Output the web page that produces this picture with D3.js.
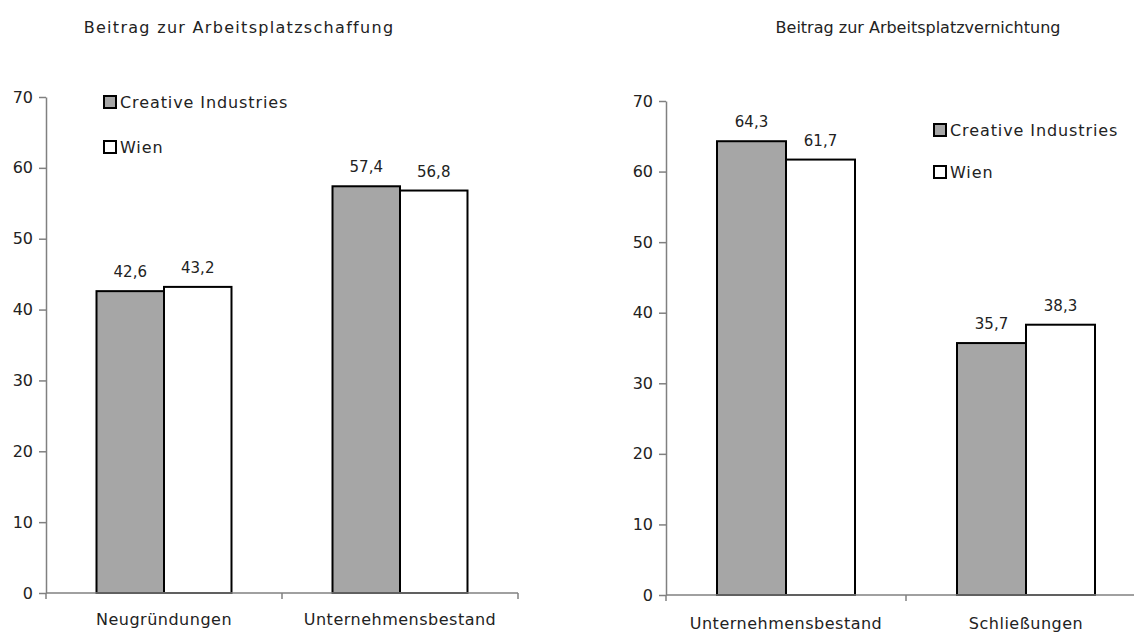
<!doctype html>
<meta charset="utf-8">
<style>
 body { margin: 0; background: #fff; }
 svg text { font-family: "DejaVu Sans", sans-serif; fill: #222; }
 .axis path, .axis line { stroke: #808080; stroke-width: 1.5px; }
 .axis text { font-size: 16px; }
 .bars rect { stroke: #000; stroke-width: 2px; }
</style>
<svg width="1134" height="635"></svg>
<script src="https://d3js.org/d3.v7.min.js"></script>
<script>
 // Data
 var series = ["Creative Industries", "Wien"];
 var colors = ["#a6a6a6", "#ffffff"];

 var leftTitle = "Beitrag zur Arbeitsplatzschaffung";
 var leftCategories = ["Neugründungen", "Unternehmensbestand"];
 var leftCreative = [42.6, 57.4];
 var leftWien = [43.2, 56.8];

 var rightTitle = "Beitrag zur Arbeitsplatzvernichtung";
 var rightCategories = ["Unternehmensbestand", "Schließungen"];
 var rightCreative = [64.3, 35.7];
 var rightWien = [61.7, 38.3];

 var yTicks = [0, 10, 20, 30, 40, 50, 60, 70];

 var svg = d3.select("svg");
 var fmt = function(v) { return d3.format(".1f")(v).replace(".", ","); };

 function panel(opt) {
   var g = svg.append("g");
   var x = d3.scaleBand().domain(opt.categories).range([opt.left, opt.right]);
   var bw = x.bandwidth();
   var xs = d3.scaleBand().domain(series).range([bw * opt.inset, bw * (1 - opt.inset)]);
   var y = d3.scaleLinear().domain([0, 70]).range([opt.bottom, opt.top]);

   // title
   g.append("text")
     .attr("x", opt.titleX).attr("y", 33)
     .attr("text-anchor", "middle")
     .style("font-size", "16px")
     .style("letter-spacing", opt.titleSpacing)
     .text(opt.title);

   // bars
   var rows = opt.categories.map(function(c, i) {
     return { cat: c, vals: [opt.ci[i], opt.wien[i]] };
   });
   var grp = g.append("g").attr("class", "bars")
     .selectAll("g").data(rows).join("g")
     .attr("transform", function(d) { return "translate(" + x(d.cat) + ",0)"; });
   grp.selectAll("rect")
     .data(function(d) { return d.vals.map(function(v, j) { return { s: series[j], v: v, j: j }; }); })
     .join("rect")
     .attr("x", function(d) { return xs(d.s); })
     .attr("width", xs.bandwidth())
     .attr("y", function(d) { return y(d.v); })
     .attr("height", function(d) { return y(0) - y(d.v); })
     .attr("fill", function(d) { return colors[d.j]; });
   grp.selectAll("text.val")
     .data(function(d) { return d.vals.map(function(v, j) { return { s: series[j], v: v }; }); })
     .join("text").attr("class", "val")
     .attr("x", function(d) { return xs(d.s) + xs.bandwidth() / 2; })
     .attr("y", function(d) { return y(d.v) - 14; })
     .attr("text-anchor", "middle")
     .style("font-size", "15px")
     .text(function(d) { return fmt(d.v); });

   // y axis
   g.append("g").attr("class", "axis")
     .attr("transform", "translate(" + opt.left + ",0)")
     .call(d3.axisLeft(y).tickValues(yTicks).tickSize(7).tickSizeOuter(0).tickPadding(6))
     .call(function(a) { a.selectAll("text").attr("fill", "#222"); });

   // x axis
   var xa = g.append("g").attr("class", "axis")
     .attr("transform", "translate(0," + opt.bottom + ")")
     .call(d3.axisBottom(x).tickSize(0).tickPadding(opt.labelPad).tickSizeOuter(0));
   xa.selectAll("text").attr("fill", "#222").style("letter-spacing", "0.5px");
   xa.select(".domain").attr("d", "M" + opt.left + ",0H" + opt.right);
   var bounds = opt.categories.map(function(c) { return x(c); }).concat([opt.right]);
   xa.selectAll("line.sep").data(bounds).join("line").attr("class", "sep")
     .attr("x1", function(d) { return d; }).attr("x2", function(d) { return d; })
     .attr("y1", 0).attr("y2", 6);

   // legend
   var lg = g.append("g").attr("transform", "translate(" + opt.legendX + "," + opt.legendY + ")");
   var item = lg.selectAll("g").data(series).join("g")
     .attr("transform", function(d, i) { return "translate(0," + i * opt.legendGap + ")"; });
   item.append("rect").attr("width", 12).attr("height", 12)
     .attr("fill", function(d, i) { return colors[i]; })
     .attr("stroke", "#000").attr("stroke-width", 2);
   item.append("text").attr("x", 16).attr("y", 6).attr("dy", "0.36em")
     .style("font-size", "16px")
     .style("letter-spacing", "0.9px")
     .text(function(d) { return d; });
 }

 panel({ title: leftTitle, titleX: 239, titleSpacing: "1.3px", categories: leftCategories,
         ci: leftCreative, wien: leftWien,
         left: 46, right: 518, top: 97, bottom: 593, inset: 0.214, labelPad: 21,
         legendX: 104, legendY: 96, legendGap: 45 });
 panel({ title: rightTitle, titleX: 918, titleSpacing: "0px", categories: rightCategories,
         ci: rightCreative, wien: rightWien,
         left: 666, right: 1146, top: 101, bottom: 595, inset: 0.2125, labelPad: 23,
         legendX: 934, legendY: 124, legendGap: 42 });
</script>
